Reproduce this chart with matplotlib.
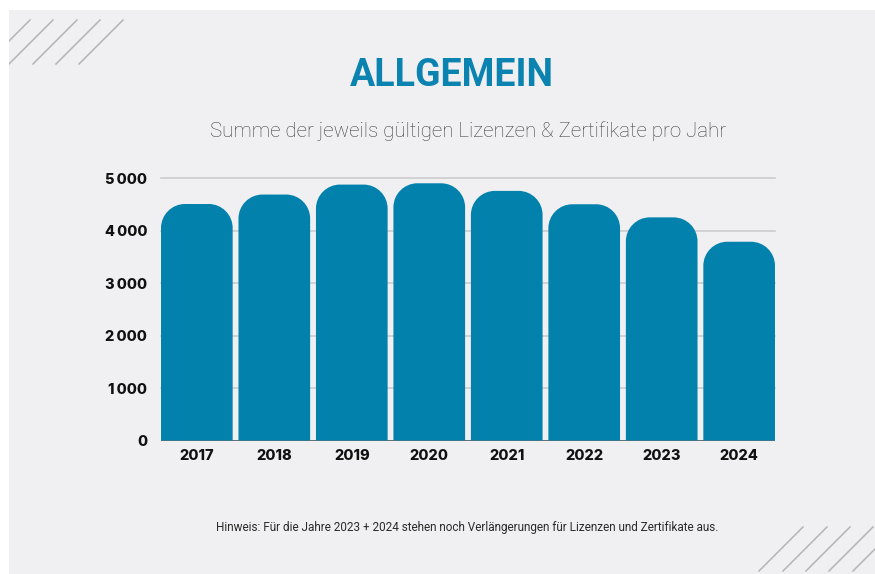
import matplotlib
matplotlib.use("Agg")
import matplotlib.pyplot as plt
from matplotlib.path import Path
from matplotlib.patches import PathPatch, Rectangle
from matplotlib.lines import Line2D
from matplotlib.ticker import FixedLocator

# ---- data ----
years = ["2017", "2018", "2019", "2020", "2021", "2022", "2023", "2024"]
values = [4510, 4690, 4880, 4905, 4760, 4505, 4255, 3790]
yticks = [0, 1000, 2000, 3000, 4000, 5000]
ytick_labels = ["0", "1\u2009000", "2\u2009000", "3\u2009000", "4\u2009000", "5\u2009000"]
title = "ALLGEMEIN"
subtitle = "Summe der jeweils gültigen Lizenzen & Zertifikate pro Jahr"
note = "Hinweis: Für die Jahre 2023 + 2024 stehen noch Verlängerungen für Lizenzen und Zertifikate aus."

W, H = 875, 574
BAR_COLOR = "#0381ad"
TITLE_COLOR = "#0a83b0"
PANEL = "#f0f0f2"

fig = plt.figure(figsize=(W / 100, H / 100), dpi=100)
fig.patch.set_facecolor("white")


def fx(px):
    return px / W


def fy(py):
    return 1 - py / H


panel = Rectangle((fx(9), fy(574)), fx(875) - fx(9), fy(10) - fy(574),
                  transform=fig.transFigure, facecolor=PANEL, edgecolor="none", zorder=-5)
fig.patches.append(panel)

# decorative diagonal hatch lines
def hatch(tops_x, top_y, length):
    for tx in tops_x:
        ln = Line2D([fx(tx), fx(tx - length)], [fy(top_y), fy(top_y + length)],
                    transform=fig.transFigure, color="#b4b4b8", lw=1.1, zorder=-4)
        ln.set_clip_path(panel)
        fig.lines.append(ln)

hatch([30, 53, 77, 100, 123], 20, 44)
hatch([803, 827, 850, 873, 897], 527, 44)

# axes
left_px, right_px = 161, 775
bottom_px = 440.5
ymax = 5100
px_per_unit = (440.5 - 178.3) / 5000
top_px = bottom_px - ymax * px_per_unit
ax = fig.add_axes([fx(left_px), fy(bottom_px), fx(right_px) - fx(left_px), fy(top_px) - fy(bottom_px)])
ax.set_facecolor("none")
width = 0.925
n = len(years)
ax.set_xlim(-width / 2, n - 1 + width / 2)
ax.set_ylim(0, ymax)

for s in ax.spines.values():
    s.set_visible(False)

for t in yticks[1:]:
    ax.axhline(t, color="#c9c9cc", lw=1.1, zorder=1, clip_on=False)
ax.axhline(0, color="#555555", lw=1.2, zorder=1)

# rounded-top bars
xpx_per_unit = (right_px - left_px) / (n - 1 + width)
r_px = 24
rx = r_px / xpx_per_unit
ry = r_px / px_per_unit
k = 0.5523
for i, v in enumerate(values):
    x0, x1 = i - width / 2, i + width / 2
    verts = [
        (x0, 0), (x0, v - ry),
        (x0, v - ry + k * ry), (x0 + rx - k * rx, v), (x0 + rx, v),
        (x1 - rx, v),
        (x1 - rx + k * rx, v), (x1, v - ry + k * ry), (x1, v - ry),
        (x1, 0), (x0, 0),
    ]
    codes = [Path.MOVETO, Path.LINETO,
             Path.CURVE4, Path.CURVE4, Path.CURVE4,
             Path.LINETO,
             Path.CURVE4, Path.CURVE4, Path.CURVE4,
             Path.LINETO, Path.CLOSEPOLY]
    ax.add_patch(PathPatch(Path(verts, codes), facecolor=BAR_COLOR, edgecolor="none", zorder=2))

tick_font = dict(family=["Inter", "DejaVu Sans"], weight="heavy", size=10.5, color="#111111")
ax.yaxis.set_major_locator(FixedLocator(yticks))
ax.set_yticklabels(ytick_labels, **tick_font)
ax.set_xticks(range(n))
ax.set_xticklabels(years, **tick_font)
ax.tick_params(axis="both", length=0)
ax.tick_params(axis="y", pad=10)
ax.tick_params(axis="x", pad=6)

fig.text(fx(452), fy(76), title, ha="center", va="center", family=["Roboto", "DejaVu Sans"],
         weight="bold", size=27, color=TITLE_COLOR)
fig.text(fx(468), fy(131), subtitle, ha="center", va="center", family=["Roboto", "DejaVu Sans"],
         weight="light", size=14.8, color="#404040")
fig.text(fx(467), fy(527), note, ha="center", va="center", family=["Roboto", "DejaVu Sans"],
         size=8.5, color="#2a2a2a")

fig.savefig("out.png", dpi=100, facecolor=fig.get_facecolor())
